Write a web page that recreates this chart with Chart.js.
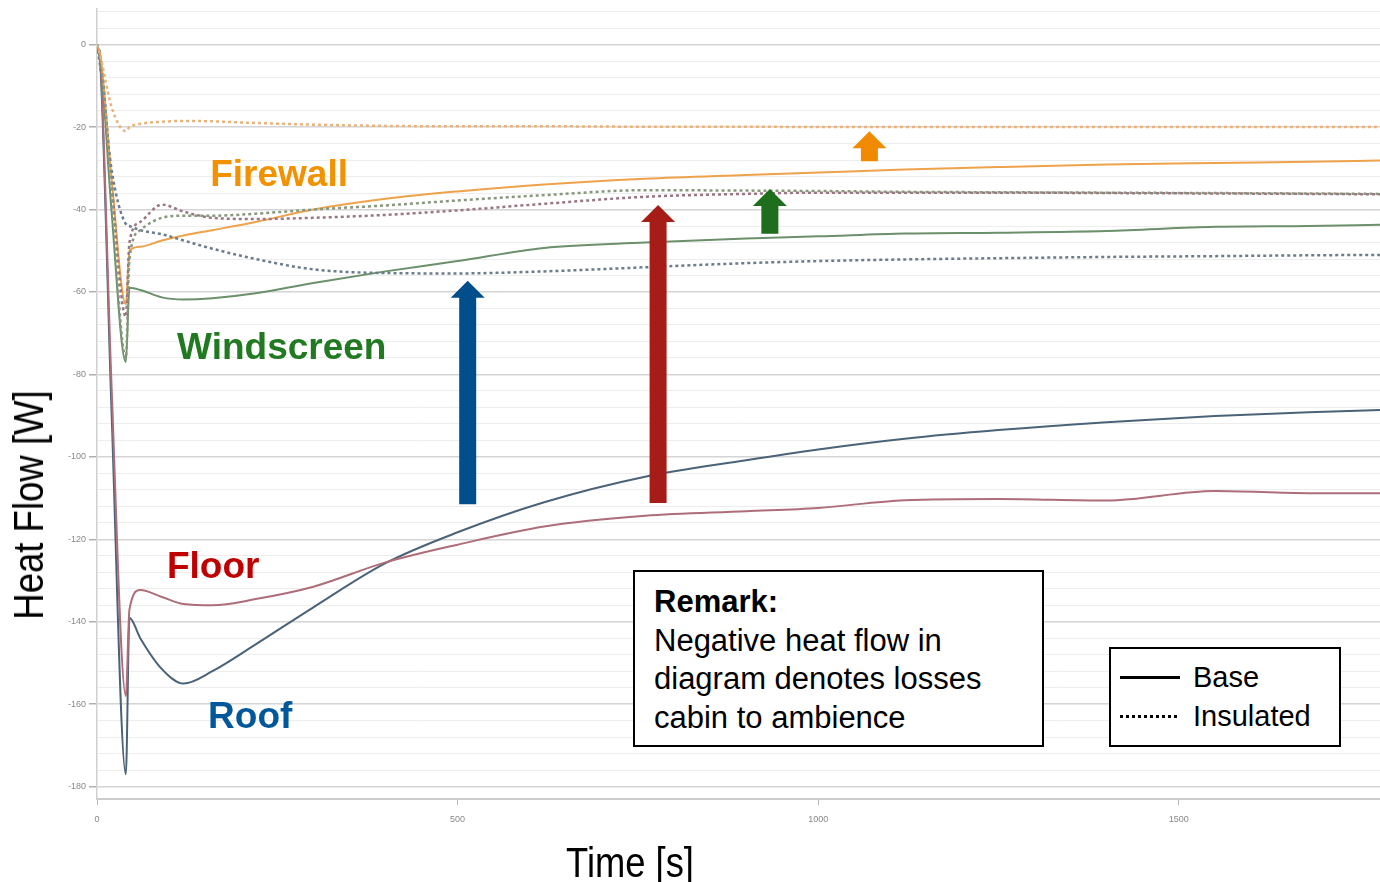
<!DOCTYPE html>
<html>
<head>
<meta charset="utf-8">
<title>Heat Flow</title>
<script src="https://cdn.jsdelivr.net/npm/chart.js@4.4.0/dist/chart.umd.min.js"></script>
<style>
  body { margin: 0; background: #fff; font-family: "Liberation Sans", Arial, sans-serif; }
  #wrap { position: relative; width: 1380px; height: 882px; overflow: hidden; }
  #chart { position: absolute; left: 0; top: 0; }
  .axisTitle { position: absolute; font-size: 42px; line-height: 1; white-space: nowrap; color: #000; }
  #xTitle { left: 630px; top: 863px; transform: translate(-50%, -50%) scaleX(0.865); }
  #yTitle { left: 29px; top: 505px; transform: translate(-50%, -50%) rotate(-90deg) scaleX(0.87); }
  .box { position: absolute; border: 2px solid #000; background: #fff; box-sizing: border-box; color: #000; }
  #remark { left: 633px; top: 570px; width: 411px; height: 177px; padding: 11px 0 0 19px; font-size: 31px; line-height: 38.5px; }
  #remark b { font-weight: bold; }
  #legendBox { left: 1109px; top: 647px; width: 232px; height: 100px; padding: 9px 0 0 9px; font-size: 29px; line-height: 39px; }
  .row { display: flex; align-items: center; height: 39px; }
  .sample { width: 60px; height: 3px; margin-right: 13px; }
  .solid { background: #000; }
  .dotted { background: repeating-linear-gradient(90deg, #000 0 3px, transparent 3px 6px); }
</style>
</head>
<body>
<div id="wrap">
  <canvas id="chart" width="1380" height="882"></canvas>
  <div class="axisTitle" id="yTitle">Heat Flow [W]</div>
  <div class="axisTitle" id="xTitle">Time [s]</div>
  <div class="box" id="remark"><b>Remark:</b><br>Negative heat flow in<br>diagram denotes losses<br>cabin to ambience</div>
  <div class="box" id="legendBox">
    <div class="row"><span class="sample solid"></span>Base</div>
    <div class="row"><span class="sample dotted"></span>Insulated</div>
  </div>
</div>
<script>
// time points [s]
const T = [0, 5, 20, 40, 45, 60, 90, 120, 160, 220, 300, 400, 500, 620, 760, 900, 1000, 1120, 1250, 1400, 1550, 1680, 1780];

// heat flow [W], base case
const roofBase  = [0, -6, -88, -177, -139, -144, -151.5, -155, -152, -145.5, -136.5, -125.8, -118.3, -111, -104.8, -100.8, -98.2, -95.6, -93.5, -91.6, -90.1, -89.2, -88.6];
const floorBase = [0, -5, -82, -158, -137, -132.3, -134, -135.7, -136, -134.5, -131.5, -125.6, -121.3, -116.9, -114.3, -113.2, -112.4, -110.5, -110.2, -110.6, -108.3, -108.8, -108.8];
const windBase  = [0, -4, -40, -77, -59, -59.5, -61.3, -61.8, -61.5, -60.3, -57.8, -55, -52.5, -49.3, -48, -47, -46.5, -45.8, -45.6, -45.2, -44.2, -44, -43.7];
const fireBase  = [0, -3, -32, -63, -50, -49, -47.5, -46.3, -45, -43, -40, -37.4, -35.6, -33.9, -32.5, -31.6, -31, -30.3, -29.7, -29.1, -28.7, -28.4, -28.1];

// heat flow [W], insulated case
const roofIns  = [0, -6, -30, -43.5, -44, -45, -46, -47.5, -49.5, -52, -54.5, -55.4, -55.5, -55, -54, -53, -52.5, -52.1, -51.8, -51.5, -51.3, -51.1, -51];
const floorIns = [0, -3, -33, -66, -48, -43, -38.8, -40.5, -42, -42.3, -42, -41.3, -40.2, -38.6, -36.9, -36.2, -35.9, -35.9, -35.9, -36, -36.1, -36.2, -36.3];
const windIns  = [0, -3, -36, -76, -52, -45, -42, -41.5, -41.5, -41, -40, -39, -37.8, -36.5, -35.3, -35.4, -35.5, -35.7, -35.8, -35.9, -36, -36.1, -36.2];
const fireIns  = [0, -3, -15, -21, -20, -19.2, -18.7, -18.5, -18.6, -19, -19.4, -19.7, -19.8, -19.8, -19.9, -19.9, -20, -20, -20, -20, -20, -20, -20];

const xTicks = [0, 500, 1000, 1500];
const yLabelStep = 20;

// series names, placed in data units (time, heat flow) at the text baseline
const seriesLabels = [
    { text: 'Firewall',   x: 157, y: -34.3,  color: '#f39200' },
    { text: 'Windscreen', x: 111, y: -76.3,  color: '#217a21' },
    { text: 'Floor',      x: 97,  y: -129.5, color: '#c00000' },
    { text: 'Roof',       x: 154, y: -165.8, color: '#00589a' }
];

// improvement arrows: time, from (base) to (insulated)
const arrows = [
    { x: 514,  from: -111.5, to: -57.3, color: '#004f8c' },
    { x: 778,  from: -111.2, to: -38.9, color: '#a51d16' },
    { x: 933,  from: -45.9,  to: -35.0, color: '#1e6e1e' },
    { x: 1071, from: -28.3,  to: -21.0, color: '#f08a00' }
];

function pts(values) {
    return T.map((t, i) => ({ x: t, y: values[i] }));
}

function line(values, color, dotted) {
    return {
        data: pts(values),
        borderColor: color,
        borderWidth: dotted ? 2.5 : 2,
        borderDash: dotted ? [3, 3] : [],
        fill: false,
        pointRadius: 0
    };
}

// Draw labels and arrows on top of the lines
const annotate = {
    id: 'annotate',
    afterDatasetsDraw(chart) {
        const { ctx, scales: { x, y } } = chart;
        ctx.save();
        arrows.forEach(a => {
            const cx = x.getPixelForValue(a.x);
            const yb = y.getPixelForValue(a.from);
            const yt = y.getPixelForValue(a.to);
            const sw = 8.5, hw = 17, hh = 17;
            ctx.fillStyle = a.color;
            ctx.beginPath();
            ctx.moveTo(cx - sw, yb);
            ctx.lineTo(cx - sw, yt + hh);
            ctx.lineTo(cx - hw, yt + hh);
            ctx.lineTo(cx, yt);
            ctx.lineTo(cx + hw, yt + hh);
            ctx.lineTo(cx + sw, yt + hh);
            ctx.lineTo(cx + sw, yb);
            ctx.closePath();
            ctx.fill();
        });
        ctx.font = 'bold 37px "Liberation Sans", Arial, sans-serif';
        ctx.textBaseline = 'alphabetic';
        seriesLabels.forEach(l => {
            ctx.fillStyle = l.color;
            ctx.fillText(l.text, x.getPixelForValue(l.x), y.getPixelForValue(l.y));
        });
        ctx.restore();
    }
};

Chart.defaults.font.family = '"Liberation Sans", Arial, sans-serif';

const ctx = document.getElementById('chart').getContext('2d');
const chart = new Chart(ctx, {
    type: 'line',
    data: {
        datasets: [
            line(fireIns,  '#e9b47c', true),
            line(windIns,  '#87987c', true),
            line(floorIns, '#9a7584', true),
            line(roofIns,  '#6b7c8c', true),
            line(fireBase,  '#eea24a', false),
            line(windBase,  '#6b906b', false),
            line(floorBase, '#ad6d79', false),
            line(roofBase,  '#4a6379', false)
        ]
    },
    options: {
        responsive: false,
        animation: false,
        layout: { padding: { top: 7, right: 0, bottom: 0, left: 0 } },
        elements: { line: { cubicInterpolationMode: 'monotone' } },
        plugins: { legend: { display: false }, tooltip: { enabled: false } },
        scales: {
            x: {
                type: 'linear',
                min: 0,
                max: 1779,
                afterFit: scale => { scale.height = 83; },
                afterBuildTicks: scale => { scale.ticks = xTicks.map(v => ({ value: v })); },
                grid: { drawOnChartArea: false, color: '#b8b8b8', tickLength: 6 },
                border: { color: '#cccccc', width: 2 },
                ticks: { color: '#888', font: { size: 9 }, padding: 9, maxRotation: 0, callback: v => String(v) }
            },
            y: {
                type: 'linear',
                min: -183,
                max: 8.8,
                afterFit: scale => { scale.width = 97; },
                afterBuildTicks: scale => {
                    const ticks = [];
                    for (let v = -180; v <= 8; v += 4) ticks.push({ value: v });
                    scale.ticks = ticks;
                },
                grid: {
                    color: c => (c.tick && c.tick.value % yLabelStep === 0) ? '#d4d4d4' : '#ededed',
                    lineWidth: c => (c.tick && c.tick.value % yLabelStep === 0) ? 1.5 : 1,
                    tickColor: c => (c.tick && c.tick.value % yLabelStep === 0) ? '#b0b0b0' : 'rgba(0,0,0,0)',
                    tickLength: 8
                },
                border: { color: '#d0d0d0', width: 1.5 },
                ticks: {
                    color: '#888',
                    font: { size: 9 },
                    padding: 3,
                    callback: v => (v % yLabelStep === 0) ? String(v) : ''
                }
            }
        }
    },
    plugins: [annotate]
});
</script>
</body>
</html>
